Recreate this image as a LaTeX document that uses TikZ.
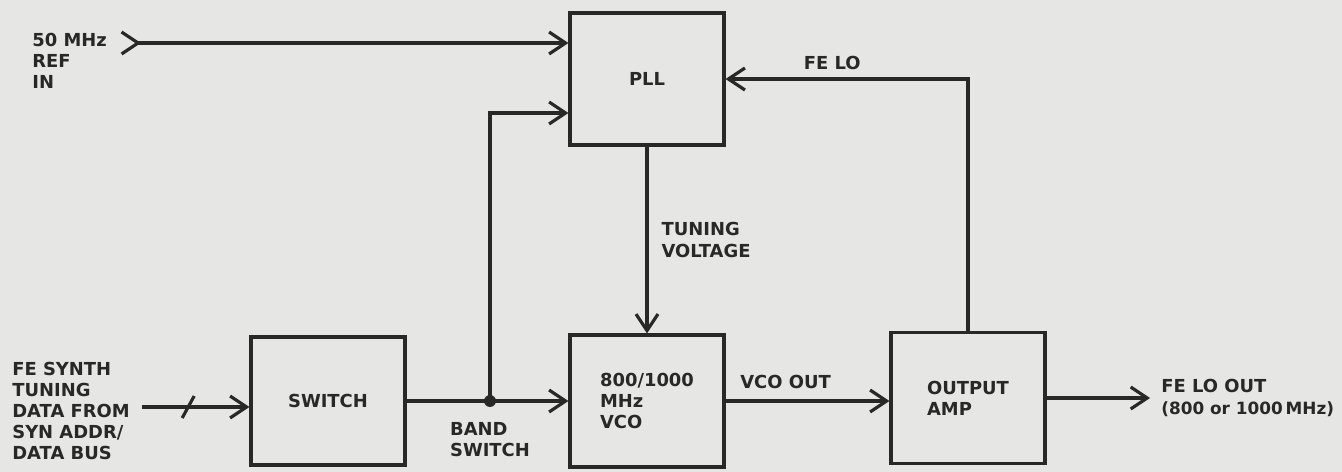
\documentclass[tikz,border=0pt]{standalone}
\usepackage{fontspec}
\setmainfont{DejaVu Sans}
\usetikzlibrary{positioning, arrows.meta, calc}
\definecolor{tinta}{RGB}{40, 40, 40}
\definecolor{papel}{RGB}{230, 230, 228}

\begin{document}
\begin{tikzpicture}[
    x=0.02cm, y=-0.02cm,
    bloque/.style={
        rectangle,
        draw=tinta,
        line width=1.8pt,
        minimum width=3.08cm,
        minimum height=2.64cm,
        align=left,
        text=tinta,
        font=\fontsize{10.2}{12}\selectfont\bfseries
    },
    rotulo/.style={
        inner sep=0pt,
        align=left,
        text=tinta,
        font=\fontsize{10.2}{12}\selectfont\bfseries
    },
    linea/.style={
        draw=tinta,
        line width=1.8pt
    },
    flecha/.style={
        linea,
        -{Straight Barb[length=3.3mm,width=4.4mm]}
    },
    entrada/.style={
        linea,
        {Straight Barb[reversed,length=3.3mm,width=4.4mm]}-{Straight Barb[length=3.3mm,width=4.4mm]}
    }
]
\fill[papel] (0,0) rectangle (1342,472);

\node[bloque] (pll) at (647,79) {PLL};
\node[bloque] (vco) at (647,401) {800/1000\\MHz\\VCO};
\node[bloque, minimum height=2.56cm] (switch) at (328,401) {SWITCH};
\node[bloque, minimum height=2.62cm] (amp) at (968,398) {OUTPUT\\AMP};

\node[rotulo, anchor=north west] (reflbl) at (32,33) {50 MHz\\REF\\IN};
\node[rotulo, anchor=north west] (dinlbl) at (12,362) {FE SYNTH\\TUNING\\DATA FROM\\SYN ADDR/\\DATA BUS};

\coordinate (refin) at (120,43);
\coordinate (din) at (142,407);
\coordinate (bs) at (490,401);
\coordinate (feout) at (1150,398);

\draw[entrada] (refin) -- (refin -| pll.west);
\draw[flecha] (din) -- coordinate[pos=0.43] (bus) (din -| switch.west);
\draw[linea] ($(bus)+(-6,11)$) -- ($(bus)+(6,-11)$);
\draw[flecha] (switch) -- (vco);
\fill[tinta] (bs) circle (3.4pt);
\node[rotulo, below=0.42cm of bs] (bandlbl) {BAND\\SWITCH};
\draw[flecha] (bs) |- ([yshift=-0.68cm]pll.west);
\draw[flecha] (pll) -- node[rotulo, right=0.26cm] {TUNING\\VOLTAGE} (vco);
\draw[flecha] (vco) -- node[rotulo, pos=0.366, above=0.22cm] {VCO OUT} (vco -| amp.west);
\draw[flecha] (amp.north) |- node[rotulo, pos=0.78, above=0.16cm] {FE LO} (pll.east);
\draw[flecha] (amp) -- (feout);
\node[rotulo, right=0.22cm of feout] (outlbl) {FE LO OUT\\{\fontsize{9.6}{12}\selectfont(800 or 1000\,MHz)}};

\end{tikzpicture}
\end{document}
